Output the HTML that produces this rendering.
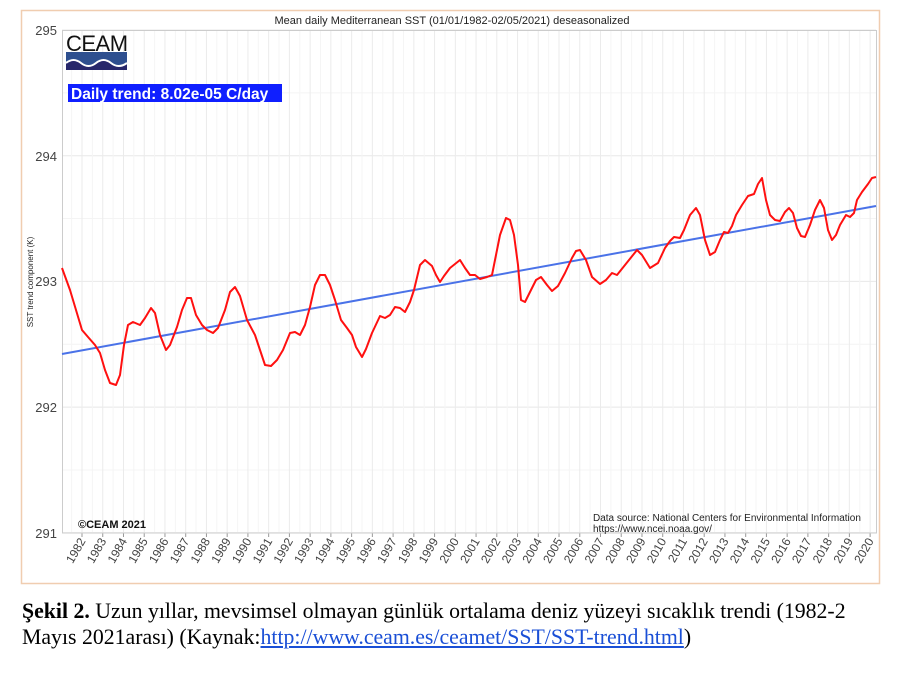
<!DOCTYPE html>
<html><head><meta charset="utf-8"><style>
body{margin:0;background:#fff;width:905px;height:677px;overflow:hidden;position:relative;font-family:"Liberation Sans",sans-serif}
.cap{position:absolute;left:22px;top:598px;font-family:"Liberation Serif",serif;font-size:21.8px;line-height:26px;color:#000;width:880px;white-space:nowrap}
.cap a{color:#1a4fd6;text-decoration:underline}
</style></head><body>
<svg width="905" height="677" style="position:absolute;left:0;top:0">
<rect x="21.5" y="10.5" width="858" height="573" fill="none" stroke="#f0cdb0" stroke-width="1.5"/>
<g id="grid" stroke="#eeeeee" stroke-width="1"></g>
<rect x="62.5" y="30.5" width="814" height="502.5" fill="none" stroke="#cccccc"/>
<text x="452" y="24" font-size="11" text-anchor="middle" fill="#222">Mean daily Mediterranean SST (01/01/1982-02/05/2021) deseasonalized</text>
<g font-size="13" fill="#444" text-anchor="end">
<text x="57" y="35">295</text><text x="57" y="161">294</text><text x="57" y="286">293</text><text x="57" y="412">292</text><text x="57" y="538">291</text></g>
<text transform="translate(33,282) rotate(-90)" font-size="8" text-anchor="middle" fill="#222">SST trend component (K)</text>
<g id="xl" font-size="12" fill="#444"></g>
<text x="66" y="51" font-size="22" fill="#111" letter-spacing="-0.5">CEAM</text>
<rect x="66" y="52" width="61" height="18" fill="#2e4f8f"/>
<path d="M66 63 q7.5 -6 15 0 t15 0 t15 0 t16 0 v7 h-61z" fill="#27276b"/>
<path d="M66 63 q7.5 -6 15 0 t15 0 t15 0 t16 0" fill="none" stroke="#fff" stroke-width="2"/>
<rect x="68" y="84" width="214" height="18" fill="#0f1fff"/>
<text x="71" y="99" font-size="15.5" font-weight="bold" fill="#fff">Daily trend: 8.02e-05 C/day</text>
<text x="78" y="528" font-size="11" font-weight="bold" fill="#111">©CEAM 2021</text>
<text x="593" y="521" font-size="10" fill="#222">Data source: National Centers for Environmental Information</text>
<text x="593" y="532" font-size="10" fill="#222">https://www.ncei.noaa.gov/</text>
<line x1="62" y1="354" x2="876" y2="206" stroke="#4a72e8" stroke-width="2"/>
<polyline fill="none" stroke="#ff1010" stroke-width="2" stroke-linejoin="round" points="62,268 70,290 76,310 82,330 88,337 95,345 100,353 105,370 110,383 116,385 120,375 124,345 128,325 133,322 140,325 145,318 151,308 155,313 160,335 166,350 170,345 177,327 182,310 187,298 191,298 196,315 202,325 207,330 213,333 218,328 225,310 230,292 235,287 240,296 247,320 255,335 260,350 265,365 271,366 277,360 283,350 290,333 295,332 300,335 305,325 310,307 315,285 320,275 325,275 330,285 335,300 341,320 347,328 352,335 356,347 362,357 366,349 372,333 380,316 385,318 390,315 395,307 400,308 405,312 410,302 414,290 420,265 425,260 432,266 436,275 440,282 444,276 450,268 455,264 460,260 465,268 470,275 475,275 480,279 487,277 492,275 495,260 500,235 506,218 510,220 514,235 518,265 521,300 525,302 530,292 536,280 541,277 547,285 552,291 558,286 565,273 572,258 576,251 580,250 586,260 592,277 600,284 606,280 612,273 617,275 625,265 637,250 642,255 650,268 658,263 665,248 670,241 674,237 680,238 684,230 690,215 696,208 700,215 705,240 710,255 715,252 720,240 724,232 728,233 732,226 736,215 742,205 748,196 754,194 758,184 762,178 766,200 770,215 775,220 780,221 785,212 789,208 793,213 797,228 801,236 805,237 810,225 815,210 820,200 824,208 828,230 832,240 836,235 840,225 846,215 850,217 854,213 857,200 862,192 868,184 872,178 876,177"/>
</svg>
<div class="cap"><b>Şekil 2.</b> Uzun yıllar, mevsimsel olmayan günlük ortalama deniz yüzeyi sıcaklık trendi (1982-2<br>Mayıs 2021arası) (Kaynak:<a>http://www.ceam.es/ceamet/SST/SST-trend.html</a>)</div>
<script>
var g=document.getElementById('grid'),xl=document.getElementById('xl'),ns='http://www.w3.org/2000/svg';
function ln(x1,y1,x2,y2,c){var l=document.createElementNS(ns,'line');l.setAttribute('x1',x1);l.setAttribute('y1',y1);l.setAttribute('x2',x2);l.setAttribute('y2',y2);if(c)l.setAttribute('stroke',c);g.appendChild(l);}
for(var i=0;i<=8;i++){var y=30+i*62.85;ln(62,y,876,y,i%2?'#f4f4f4':'#e8e8e8');}
for(var k=0;k<39;k++){var x=82+k*20.74;ln(x,30,x,533,'#ebebeb');ln(x-10.37,30,x-10.37,533,'#f5f5f5');ln(x,533,x,537,'#999');
var t=document.createElementNS(ns,'text');t.setAttribute('transform','translate('+(x+4)+',541) rotate(-60)');t.setAttribute('text-anchor','end');t.textContent=1982+k;xl.appendChild(t);}
</script>
</body></html>
